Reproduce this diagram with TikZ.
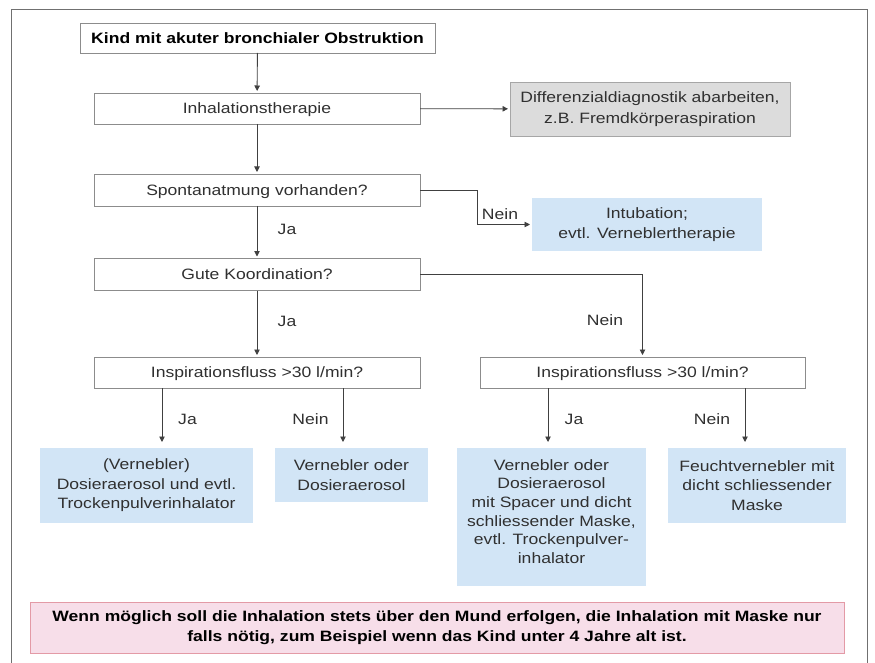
\documentclass[tikz,border=0pt]{standalone}
\usepackage{fontspec}
\setmainfont[FakeStretch=1.17]{Liberation Sans}
\usetikzlibrary{arrows.meta}
\definecolor{lineC}{HTML}{404040}
\definecolor{txtC}{HTML}{303030}
\definecolor{boxB}{HTML}{8C8C8C}
\definecolor{blueF}{HTML}{D2E5F6}
\definecolor{grayF}{HTML}{DCDCDC}
\definecolor{grayB}{HTML}{A6A6A6}
\definecolor{pinkF}{HTML}{F7DEE9}
\definecolor{pinkB}{HTML}{E39AA6}
\definecolor{frameC}{HTML}{707070}
\tikzset{
  base/.style={inner sep=0pt, outer sep=0pt, align=center, text=txtC,
    font=\fontsize{15}{19.5}\selectfont},
  whitebox/.style={base, draw=boxB, fill=white, line width=0.9pt, text depth=0pt},
  graybox/.style={base, draw=grayB, fill=grayF, line width=0.9pt,
    font=\fontsize{15}{20.5}\selectfont},
  bluebox/.style={base, fill=blueF},
  pinkbox/.style={base, draw=pinkB, fill=pinkF, line width=0.9pt, text=black,
    font=\bfseries\fontsize{15}{19.5}\selectfont},
  arr/.style={draw=lineC, line width=0.9pt, -{Triangle[length=5.5pt,width=5.5pt]}, shorten >=2pt},
  arrlow/.style={arr, shorten >=6pt},
  lbl/.style={base, inner sep=0pt}
}
\begin{document}
\begin{tikzpicture}[x=1pt,y=-1pt]
\useasboundingbox (0,0) rectangle (875,663);
% frame
\draw[frameC, line width=1.2pt] (11.5,663) -- (11.5,9.5) -- (867.5,9.5) -- (867.5,663);

% boxes
\node[whitebox, minimum width=355pt, minimum height=30pt, text=black,
  font=\bfseries\fontsize{15}{19.5}\selectfont] (b1) at (257.5,38) {Kind mit akuter bronchialer Obstruktion};
\node[whitebox, minimum width=326pt, minimum height=31pt] (b2) at (257,108.5) {Inhalationstherapie};
\node[graybox, minimum width=280pt, minimum height=54pt] (b3) at (650,109) {Differenzialdiagnostik abarbeiten,\\z.B. Fremdkörperaspiration};
\node[whitebox, minimum width=326pt, minimum height=32pt] (b4) at (257,190) {Spontanatmung vorhanden?};
\node[bluebox, minimum width=230pt, minimum height=53pt] (b5) at (647,224.5) {Intubation;\\evtl. Verneblertherapie};
\node[whitebox, minimum width=326pt, minimum height=32pt] (b6) at (257,274.5) {Gute Koordination?};
\node[whitebox, minimum width=326pt, minimum height=31pt] (b7) at (257,372.5) {Inspirationsfluss >30 l/min?};
\node[whitebox, minimum width=325pt, minimum height=31pt] (b8) at (642.5,372.5) {Inspirationsfluss >30 l/min?};
\node[bluebox, minimum width=213pt, minimum height=75pt] (b9) at (146.5,485.5) {(Vernebler)\\Dosieraerosol und evtl.\\Trockenpulverinhalator};
\node[bluebox, minimum width=153pt, minimum height=54pt] (b10) at (351.5,475) {Vernebler oder\\Dosieraerosol};
\node[bluebox, minimum width=189pt, minimum height=138pt, font=\fontsize{15}{18.7}\selectfont] (b11) at (551.5,517) {Vernebler oder\\Dosieraerosol\\mit Spacer und dicht\\schliessender Maske,\\evtl. Trockenpulver-\\inhalator\\[-7.5pt]};
\node[bluebox, minimum width=178pt, minimum height=75pt] (b12) at (757,485.5) {Feuchtvernebler mit\\dicht schliessender\\Maske};
\node[pinkbox, minimum width=814pt, minimum height=51pt] (b13) at (437,627.5) {Wenn möglich soll die Inhalation stets über den Mund erfolgen, die Inhalation mit Maske nur\\falls nötig, zum Beispiel wenn das Kind unter 4 Jahre alt ist.};

% helper coordinates for branch positions
\coordinate (e1) at (477,0);
\coordinate (x1) at (162,0);
\coordinate (x2) at (343,0);
\coordinate (x3) at (548,0);
\coordinate (x4) at (745,0);

% connectors
\draw[arr] (b1) -- (b2);
\draw[arr] (b2) -- (b3);
\draw[arr] (b2) -- (b4);
\draw[arr] (b4.east) -- (b4.east -| e1) |- (b5.west);
\draw[arr] (b4) -- (b6);
\draw[arr] (b6.east) -| (b8.north);
\draw[arr] (b6) -- (b7);
\draw[arrlow] (b7.south -| x1) -- (b9.north -| x1);
\draw[arrlow] (b7.south -| x2) -- (b10.north -| x2);
\draw[arrlow] (b8.south -| x3) -- (b11.north -| x3);
\draw[arrlow] (b8.south -| x4) -- (b12.north -| x4);

% labels
\node[lbl] (l1) at (287,229) {Ja};
\node[lbl] (l2) at (500,214) {Nein};
\node[lbl] (l3) at (287,321) {Ja};
\node[lbl] (l4) at (605,320) {Nein};
\node[lbl] (l5) at (187.5,419) {Ja};
\node[lbl] (l6) at (310.5,419) {Nein};
\node[lbl] (l7) at (574,419) {Ja};
\node[lbl] (l8) at (712,419) {Nein};
\end{tikzpicture}
\end{document}
